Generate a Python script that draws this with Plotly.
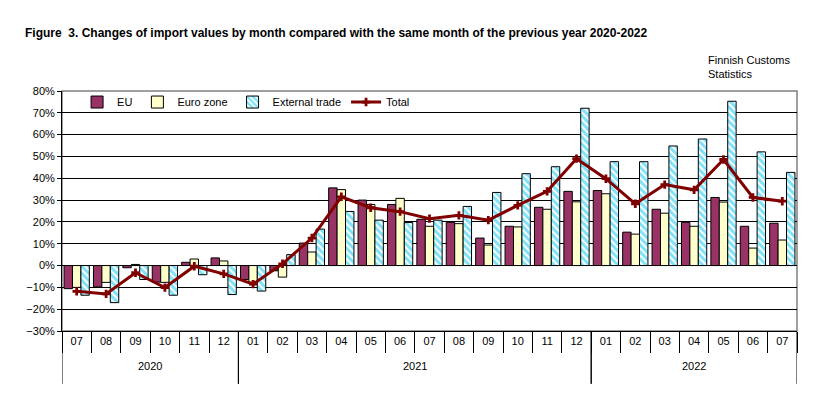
import plotly.graph_objects as go

years = ["2020"] * 6 + ["2021"] * 12 + ["2022"] * 7
months = ["07", "08", "09", "10", "11", "12",
          "01", "02", "03", "04", "05", "06", "07", "08", "09", "10", "11", "12",
          "01", "02", "03", "04", "05", "06", "07"]

eu = [-10.6, -9.8, -1.0, -7.6, 1.5, 3.5,
      -6.4, -2.4, 10.3, 35.6, 30.0, 28.0, 21.2, 19.8, 12.6, 18.0, 26.7, 34.0,
      34.4, 15.3, 25.8, 19.8, 31.2, 18.0, 19.4]
euro_zone = [-10.0, -7.7, 0.5, -7.7, 3.0, 2.1,
             -7.6, -5.3, 6.2, 34.8, 28.0, 30.8, 18.0, 19.2, 9.4, 17.7, 25.8, 29.2,
             32.9, 14.4, 24.0, 18.0, 29.1, 8.0, 11.7]
external = [-13.6, -17.0, -6.4, -13.6, -4.2, -13.3,
            -11.7, 5.0, 16.7, 24.8, 20.8, 19.7, 20.8, 27.1, 33.5, 42.1, 45.3, 72.1,
            47.6, 47.6, 54.8, 58.0, 75.3, 52.1, 42.7]
total = [-11.8, -13.0, -3.3, -10.1, -0.3, -3.8,
         -8.5, 0.8, 12.6, 31.5, 26.5, 24.7, 21.5, 23.0, 20.8, 27.6, 34.0, 49.0,
         39.8, 28.3, 37.1, 34.7, 48.6, 31.2, 29.5]

cats = [f"{y}-{m}" for y, m in zip(years, months)]
FONT = "Liberation Sans, Arial, sans-serif"

fig = go.Figure()
fig.add_trace(go.Bar(x=cats, y=eu, name="EU",
                     marker=dict(color="#993366", line=dict(color="black", width=1))))
fig.add_trace(go.Bar(x=cats, y=euro_zone, name="Euro zone",
                     marker=dict(color="#FFFFCC", line=dict(color="black", width=1))))
fig.add_trace(go.Bar(x=cats, y=external, name="External trade",
                     marker=dict(color="white", line=dict(color="black", width=1),
                                 pattern=dict(shape="\\", fgcolor="#00C4F5", bgcolor="white",
                                              size=5, solidity=0.6))))
fig.add_trace(go.Scatter(x=cats, y=total, name="Total", mode="lines+markers",
                         line=dict(color="#800000", width=3),
                         marker=dict(symbol="cross", size=7, color="#800000")))

annotations = [
    dict(text="<b>Figure  3. Changes of import values by month compared with the same month of the previous year 2020-2022</b>",
         xref="paper", yref="paper", x=-0.053, y=1.242, xanchor="left", yanchor="middle",
         showarrow=False, font=dict(size=12, family=FONT)),
    dict(text="Finnish Customs<br>Statistics",
         xref="paper", yref="paper", x=0.876, y=1.10, xanchor="left", yanchor="middle",
         showarrow=False, align="left", font=dict(size=11, family=FONT)),
]
shapes = [dict(type="rect", xref="paper", yref="paper", x0=0, x1=1, y0=0, y1=1,
               line=dict(color="#808080", width=1.5), layer="below")]

# year group labels and dividers below the month labels
year_order = []
for y in years:
    if y not in year_order:
        year_order.append(y)
for yr in year_order:
    idx = [i for i, y in enumerate(years) if y == yr]
    first, last = idx[0], idx[-1]
    annotations.append(dict(text=yr, xref="x", yref="paper", x=(first + last) / 2,
                            y=-0.146, xanchor="center", yanchor="middle",
                            showarrow=False, font=dict(size=11, family=FONT)))
    for b in (first - 0.5, last + 0.5):
        shapes.append(dict(type="line", xref="x", yref="paper", x0=b, x1=b,
                           y0=0, y1=-0.22, line=dict(color="black", width=1)))

fig.update_layout(
    width=832, height=416,
    margin=dict(l=54, r=43, t=83, b=93),
    paper_bgcolor="white", plot_bgcolor="white",
    font=dict(family=FONT, size=11, color="black"),
    barmode="group", bargap=0.14, bargroupgap=0,
    showlegend=True,
    legend=dict(orientation="h", x=0.0205, y=0.954, xanchor="left", yanchor="middle",
                bgcolor="rgba(0,0,0,0)", font=dict(size=11), traceorder="normal",
                itemwidth=30),
    annotations=annotations,
    shapes=shapes,
)
fig.update_yaxes(range=[-30, 80], dtick=10, ticksuffix="%", showgrid=True,
                 gridcolor="black", gridwidth=1, zeroline=True, zerolinecolor="black",
                 zerolinewidth=1, showline=True, linecolor="black", linewidth=1,
                 ticks="outside", ticklen=4, tickcolor="black")
fig.update_xaxes(type="category", tickmode="array", tickvals=cats, ticktext=months,
                 range=[-0.5, len(cats) - 0.5],
                 showgrid=False, showline=True, linecolor="black",
                 linewidth=1, ticks="outside", ticklen=21, tickcolor="black",
                 tickson="boundaries", ticklabelstandoff=0)

fig.write_html("out.html")
